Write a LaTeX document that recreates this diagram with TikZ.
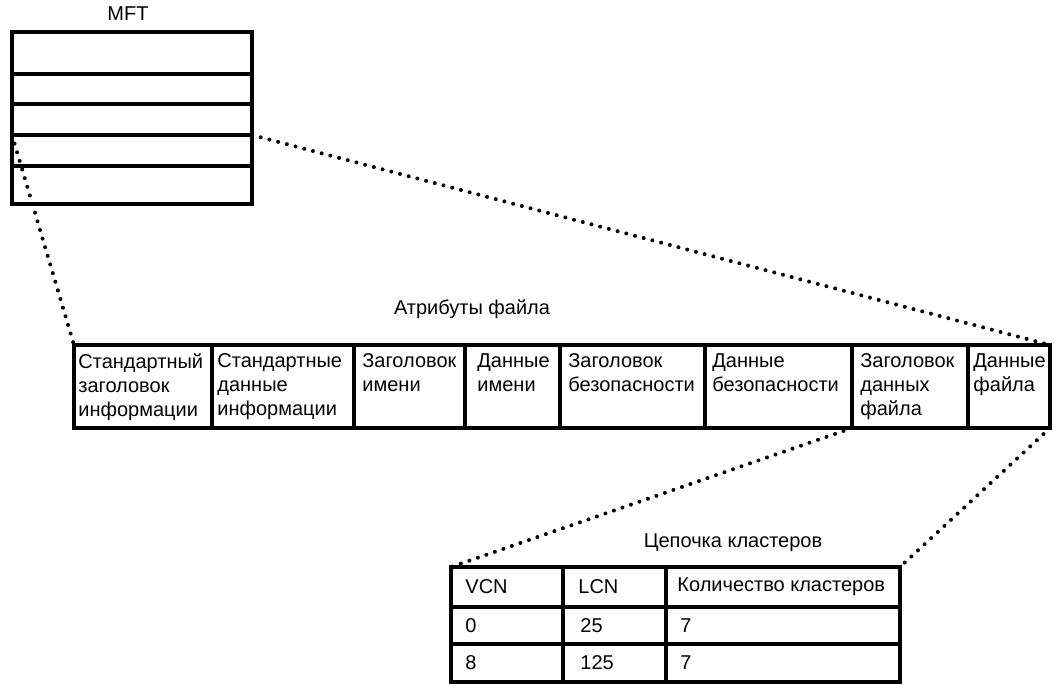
\documentclass[tikz,border=0pt]{standalone}
\usepackage{fontspec}
\setmainfont{Liberation Sans}
\usetikzlibrary{positioning}
\tikzset{
  box/.style={draw, line width=2pt, anchor=north west, inner sep=0pt, outer sep=0pt},
  txt/.style={align=left, inner sep=0pt, font=\fontsize{10}{12}\selectfont},
  dots/.style={line width=2pt, line cap=round, dash pattern=on 0pt off 4.5pt},
}

\begin{document}
\begin{tikzpicture}[x=0.5pt,y=-0.5pt]
  \useasboundingbox (0,0) rectangle (1063,691);

  % MFT
  \node[txt] (mftlabel) at (128,14) {MFT};
  \node[box, minimum width=120pt, minimum height=21pt] (mft1) at (12,32) {};
  \node[box, minimum width=120pt, minimum height=15pt, below=0pt of mft1] (mft2) {};
  \node[box, minimum width=120pt, minimum height=15.5pt, below=0pt of mft2] (mft3) {};
  \node[box, minimum width=120pt, minimum height=15.5pt, below=0pt of mft3] (mft4) {};
  \node[box, minimum width=120pt, minimum height=19pt, below=0pt of mft4] (mft5) {};

  % attributes of a file
  \node[txt] (attrlabel) at (472,309) {Атрибуты файла};
  \node[box, minimum width=69pt, minimum height=41.5pt] (a1) at (74,345) {};
  \node[box, minimum width=71pt, minimum height=41.5pt, right=0pt of a1] (a2) {};
  \node[box, minimum width=55.5pt, minimum height=41.5pt, right=0pt of a2] (a3) {};
  \node[box, minimum width=47.5pt, minimum height=41.5pt, right=0pt of a3] (a4) {};
  \node[box, minimum width=72.5pt, minimum height=41.5pt, right=0pt of a4] (a5) {};
  \node[box, minimum width=73.5pt, minimum height=41.5pt, right=0pt of a5] (a6) {};
  \node[box, minimum width=58pt, minimum height=41.5pt, right=0pt of a6] (a7) {};
  \node[box, minimum width=41pt, minimum height=41.5pt, right=0pt of a7] (a8) {};

  \node[txt, below right=4pt and 2pt of a1.north west] (t1) {Стандартный\\заголовок\\информации};
  \node[txt, below right=4pt and 2.5pt of a2.north west] (t2) {Стандартные\\данные\\информации};
  \node[txt, below right=4pt and 4pt of a3.north west] (t3) {Заголовок\\имени};
  \node[txt, below right=4pt and 6pt of a4.north west] (t4) {Данные\\имени};
  \node[txt, below right=4pt and 4pt of a5.north west] (t5) {Заголовок\\безопасности};
  \node[txt, below right=4pt and 3.5pt of a6.north west] (t6) {Данные\\безопасности};
  \node[txt, below right=4pt and 4pt of a7.north west] (t7) {Заголовок\\данных\\файла};
  \node[txt, below right=4pt and 2.5pt of a8.north west] (t8) {Данные\\файла};

  % cluster chain
  \node[txt] (chainlabel) at (733,543) {Цепочка кластеров};
  \node[box, minimum width=56pt, minimum height=20pt] (c11) at (451,567) {};
  \node[box, minimum width=51.5pt, minimum height=20pt, right=0pt of c11] (c12) {};
  \node[box, minimum width=117pt, minimum height=20pt, right=0pt of c12] (c13) {};
  \node[box, minimum width=56pt, minimum height=18.5pt, below=0pt of c11] (c21) {};
  \node[box, minimum width=51.5pt, minimum height=18.5pt, right=0pt of c21] (c22) {};
  \node[box, minimum width=117pt, minimum height=18.5pt, right=0pt of c22] (c23) {};
  \node[box, minimum width=56pt, minimum height=19pt, below=0pt of c21] (c31) {};
  \node[box, minimum width=51.5pt, minimum height=19pt, right=0pt of c31] (c32) {};
  \node[box, minimum width=117pt, minimum height=19pt, right=0pt of c32] (c33) {};

  \node[txt, right=7pt of c11.west] (v1) {VCN};
  \node[txt, right=7.5pt of c12.west] (l1) {LCN};
  \node[txt, right=5.5pt of c13.west] (n1) {Количество кластеров};
  \node[txt, right=7pt of c21.west] (v2) {0};
  \node[txt, right=8.5pt of c22.west] (l2) {25};
  \node[txt, right=7pt of c23.west] (n2) {7};
  \node[txt, right=7pt of c31.west] (v3) {8};
  \node[txt, right=8.5pt of c32.west] (l3) {125};
  \node[txt, right=7pt of c33.west] (n3) {7};

  % zoom lines
  \draw[dots] (mft4.north west) -- (a1.north west);
  \draw[dots] (mft4.north east) -- (a8.north east);
  \draw[dots] (a7.south west) -- (c11.north west);
  \draw[dots] (a8.south east) -- (c13.north east);
\end{tikzpicture}
\end{document}
